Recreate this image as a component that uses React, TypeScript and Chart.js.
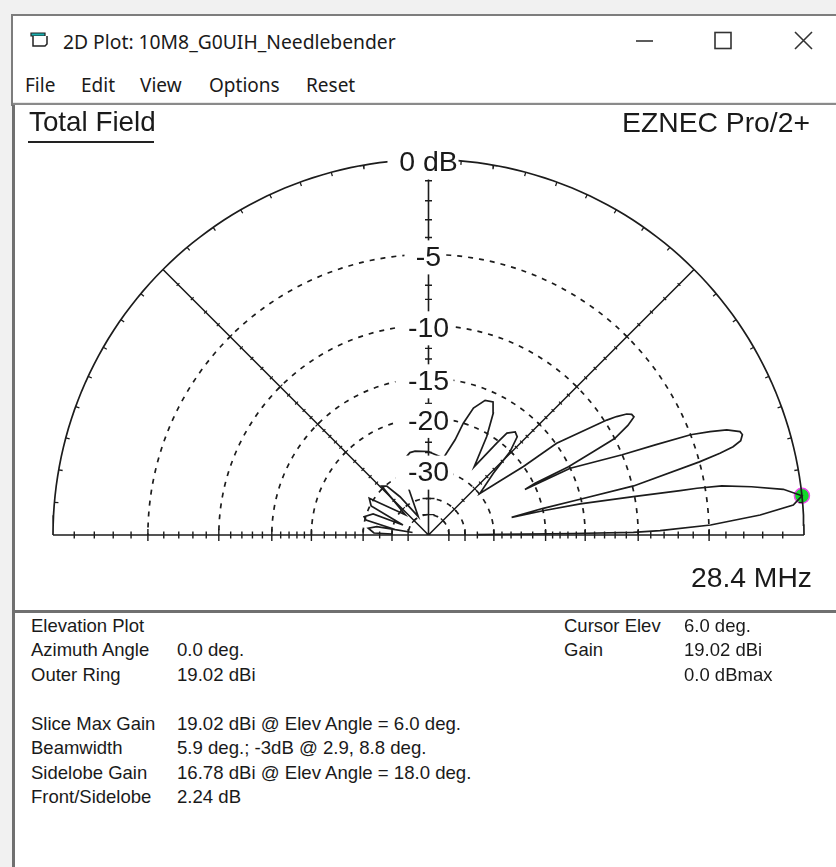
import React, { useEffect, useRef } from "react";
import { Chart, registerables } from "chart.js";

Chart.register(...registerables);

// Pattern: elevation angle (deg) and gain relative to the outer ring (dB)
const patternElevation = [
  0.5, 0.6, 0.76, 1.06, 2.03, 3.45, 4.7, 6.0, 7.34, 8.5, 9.49, 9.88, 9.99, 10.6, 11.56, 11.95, 12.0,
  13.1, 13.26, 13.45, 15.1, 15.66, 16.16, 16.8, 17.74, 18.35, 19.4, 20.15, 20.93, 21.67, 22.5, 25.2, 25.3,
  25.9, 26.0, 26.8, 27.4, 28.8, 29.5, 29.9, 30.7, 31.4, 32.2, 32.8, 35.6, 35.8, 37.1,
  39.0, 43.6, 45.6, 47.9, 49.9, 52.4, 53.4, 56.2,
  59.4, 62.0, 64.1, 67.2, 70.5, 72.7, 74.4, 79.1, 90.1, 99.1, 102.7, 107, 112.5, 119.1,
  126.7, 130.5, 133.7, 139, 148.2, 153.2, 158.6,
  159.2, 164.2, 166.5, 170.7, 171, 170.9, 173.6, 177.9, 178.4,
];
const patternGain = [
  -35.1, -16.4, -10.4, -8.3, -4.9, -2.1, -0.44, 0, -0.83, -2.4, -4.0, -5.5, -6.6, -10.1, -15.2, -20, -25.5,
  -19.9, -15.1, -9.9, -5.0, -3.7, -2.9, -2.42, -2.24, -2.31, -2.95, -3.86, -5.0, -7.4, -10, -15, -21.6,
  -19.8, -15.1, -12.2, -10, -8.6, -8.15, -7.9, -7.95, -8.25, -9.0, -9.8, -14.9, -20, -24.6,
  -29.8, -24.6, -20.1, -17.9, -17.6, -18.4, -20.4, -26.1,
  -20.4, -17.2, -16, -16.2, -17.6, -20, -22.9, -26.9, -25.8, -25.5, -25.6, -26.5, -31.6, -49.5,
  -35.4, -30.3, -29.4, -42.9, -28.9, -30.3, -44.9,
  -31.7, -29.6, -30.3, -41.3, -54, -33.8, -31.3, -33.1, -40,
];

const ringLevels = [-5, -10, -15, -20, -30, -40, -50];
const labelLevels = [0, -5, -10, -15, -20, -30];
const labelTexts = ["0 dB", "-5", "-10", "-15", "-20", "-30"];
const axisAngles = [0, 90, 180];
const diagonalAngles = [45, 135];
const minorTicks = [
  -1, -2, -3, -4, -6, -7, -8, -9, -11, -12, -13, -14, -16, -17, -18, -19, -22, -24, -26, -28, -35,
];
const majorTicks = [-5, -10, -15, -20, -30, -40, -50];
const cursorElevation = [6];
const cursorGain = [0];

const infoLeft = [
  ["Elevation Plot", ""],
  ["Azimuth Angle", "0.0 deg."],
  ["Outer Ring", "19.02 dBi"],
  ["", ""],
  ["Slice Max Gain", "19.02 dBi @ Elev Angle = 6.0 deg."],
  ["Beamwidth", "5.9 deg.; -3dB @ 2.9, 8.8 deg."],
  ["Sidelobe Gain", "16.78 dBi @ Elev Angle = 18.0 deg."],
  ["Front/Sidelobe", "2.24 dB"],
];
const infoRight = [
  ["Cursor Elev", "6.0 deg."],
  ["Gain", "19.02 dBi"],
  ["", "0.0 dBmax"],
];
const menuItems: [string, number][] = [
  ["File", 25],
  ["Edit", 81],
  ["View", 140],
  ["Options", 209],
  ["Reset", 306],
];

// Layout
const CX = 428.5;
const CY = 535;
const R = 375.5;
const CANVAS = { left: 15, top: 106, width: 821, height: 503 };
const labelMaskLeft = [41, 24, 32, 33, 33, 33];
const labelMaskRight = [30, 15, 24, 25, 25, 25];

// ARRL log scale
const rho = (db: number) => Math.pow(0.89, -db / 2);
const polar = (deg: number, r: number) => ({
  x: r * Math.cos((deg * Math.PI) / 180),
  y: r * Math.sin((deg * Math.PI) / 180),
});
const GAP = { x: NaN, y: NaN };

function ringPoints(db: number) {
  const pts = [];
  for (let a = 0; a <= 180; a += 1.5) pts.push(polar(a, rho(db)));
  return pts;
}
function tickPoints(angles: number[], levels: number[], half: number) {
  const pts: { x: number; y: number }[] = [];
  const h = half / R;
  angles.forEach((a) => {
    const ux = Math.cos((a * Math.PI) / 180);
    const uy = Math.sin((a * Math.PI) / 180);
    levels.forEach((db) => {
      const r = rho(db);
      pts.push({ x: r * ux - uy * h, y: r * uy + ux * h }, { x: r * ux + uy * h, y: r * uy - ux * h }, GAP);
    });
  });
  return pts;
}
function rimTickPoints() {
  const pts: { x: number; y: number }[] = [];
  for (let a = 5; a < 180; a += 5) {
    if (a % 45 === 0) continue;
    pts.push(polar(a, 1), polar(a, 1 - 4 / R), GAP);
  }
  return pts;
}
function spokePoints() {
  const pts: { x: number; y: number }[] = [];
  [...axisAngles, ...diagonalAngles].forEach((a) => pts.push({ x: 0, y: 0 }, polar(a, 1), GAP));
  return pts;
}

const INK = "#1c1c1c";
const labelFont = '28.5px "Liberation Sans", Arial, sans-serif';

const labelPlugin = {
  id: "ringLabels",
  afterDatasetsDraw(chart: any) {
    const { ctx, scales } = chart;
    const px = scales.x.getPixelForValue(0);
    ctx.save();
    ctx.font = labelFont;
    ctx.textAlign = "center";
    ctx.textBaseline = "middle";
    labelLevels.forEach((db, i) => {
      const y = scales.y.getPixelForValue(rho(db)) + 3;
      ctx.fillStyle = "#fff";
      ctx.fillRect(px - labelMaskLeft[i], y - 17, labelMaskLeft[i] + labelMaskRight[i], 34);
    });
    labelLevels.forEach((db, i) => {
      const y = scales.y.getPixelForValue(rho(db)) + 3;
      ctx.fillStyle = "#1a1a1a";
      ctx.fillText(labelTexts[i], px, y + 1);
    });
    ctx.restore();
  },
};

const sans = '"Liberation Sans", Arial, sans-serif';
const ui = '"Noto Sans", sans-serif';

function Text({ x, y, size, font, children, right }: any) {
  return (
    <div
      style={{
        position: "absolute",
        left: right ? undefined : x,
        right: right ? 836 - x : undefined,
        top: y,
        transform: "translateY(-50%)",
        fontSize: size,
        fontFamily: font,
        color: "#1a1a1a",
        whiteSpace: "nowrap",
        lineHeight: 1,
      }}
    >
      {children}
    </div>
  );
}

function Box({ l, t, w, h, c }: any) {
  return <div style={{ position: "absolute", left: l, top: t, width: w, height: h, background: c }} />;
}

export default function App() {
  const ref = useRef<HTMLCanvasElement>(null);

  useEffect(() => {
    const line = (data: any[], extra: any = {}) => ({
      type: "scatter",
      data,
      showLine: true,
      spanGaps: false,
      pointRadius: 0,
      borderColor: INK,
      borderWidth: 1.6,
      tension: 0,
      ...extra,
    });
    const chart = new Chart(ref.current as HTMLCanvasElement, {
      type: "scatter",
      data: {
        datasets: [
          {
            type: "scatter",
            label: "Cursor",
            data: cursorElevation.map((e, i) => polar(e, rho(cursorGain[i]))),
            pointRadius: 7.5,
            pointBackgroundColor: "#12d62a",
            pointBorderColor: "#ee44ee",
            pointBorderWidth: 1.5,
            showLine: false,
            order: 5,
          },
          ...ringLevels.map((db) =>
            line(ringPoints(db), { label: `${db} dB ring`, borderDash: [5, 6], borderWidth: 1.7, order: 4 })
          ),
          line(ringPoints(0), { label: "Outer ring", borderWidth: 1.7, order: 3 }),
          line(spokePoints(), { label: "Spokes", borderWidth: 1.6, order: 3 }),
          line(tickPoints(axisAngles, minorTicks, 3.5), { label: "Axis minor ticks", borderWidth: 1.4, order: 3 }),
          line(tickPoints(axisAngles, majorTicks, 6), { label: "Axis major ticks", borderWidth: 1.4, order: 3 }),
          line(tickPoints(diagonalAngles, minorTicks, 2), { label: "Diagonal minor ticks", borderWidth: 1.2, order: 3 }),
          line(tickPoints(diagonalAngles, majorTicks, 3), { label: "Diagonal major ticks", borderWidth: 1.2, order: 3 }),
          line(rimTickPoints(), { label: "Rim ticks", borderWidth: 1.3, order: 3 }),
          line(
            patternElevation.map((e, i) => polar(e, rho(patternGain[i]))),
            { label: "Total Field", borderWidth: 1.7, order: 1 }
          ),
        ] as any,
      },
      options: {
        responsive: false,
        animation: false,
        layout: { padding: 0, autoPadding: false },
        plugins: { legend: { display: false }, tooltip: { enabled: false }, title: { display: false } },
        scales: {
          x: {
            type: "linear",
            display: false,
            min: (CANVAS.left - CX) / R,
            max: (CANVAS.left + CANVAS.width - CX) / R,
          },
          y: {
            type: "linear",
            display: false,
            min: (CY - CANVAS.top - CANVAS.height) / R,
            max: (CY - CANVAS.top) / R,
          },
        },
      },
      plugins: [labelPlugin],
    } as any);
    return () => chart.destroy();
  }, []);

  const rows = [626, 650, 675, 699, 724, 748, 773, 797];

  return (
    <div style={{ position: "fixed", left: 0, top: 0, width: 836, height: 867, background: "#fff", overflow: "hidden" }}>
      <Box l={0} t={0} w={836} h={14} c="#f1f1f1" />
      <Box l={0} t={0} w={12} h={867} c="#f1f1f1" />
      <Box l={11} t={14} w={825} h={2} c="#7d7d7d" />
      <Box l={11} t={14} w={2} h={92} c="#7d7d7d" />
      <Box l={12} t={105} w={3} h={762} c="#707070" />
      <Box l={13} t={102} w={823} h={1} c="#e8e8e8" />
      <Box l={13} t={103} w={823} h={2} c="#8a8a8a" />
      <Box l={13} t={610} w={823} h={3} c="#707070" />

      <svg style={{ position: "absolute", left: 29, top: 30 }} width={22} height={22}>
        <path d="M2 3 h14 v3 h-14 z" fill="#18b0b0" stroke="#222" strokeWidth={1.2} />
        <path d="M4 6 v10 h12 l2 -2 v-8" fill="#fff" stroke="#222" strokeWidth={1.5} />
      </svg>
      <Text x={63} y={42} size={19.3} font={ui}>
        2D Plot: 10M8_G0UIH_Needlebender
      </Text>
      <svg style={{ position: "absolute", left: 630, top: 28 }} width={190} height={26}>
        <path d="M6 13 h17" stroke="#333" strokeWidth={1.6} fill="none" />
        <rect x={85} y={4.5} width={16} height={16} stroke="#333" strokeWidth={1.6} fill="none" />
        <path d="M165 4 L182 21 M182 4 L165 21" stroke="#333" strokeWidth={1.6} fill="none" />
      </svg>
      {menuItems.map(([t, x]) => (
        <Text key={t} x={x} y={85} size={19} font={ui}>
          {t}
        </Text>
      ))}

      <canvas
        ref={ref}
        width={CANVAS.width}
        height={CANVAS.height}
        style={{ position: "absolute", left: CANVAS.left, top: CANVAS.top }}
      />

      <Text x={29} y={122} size={27.8} font={sans}>
        Total Field
      </Text>
      <Box l={28} t={141} w={126} h={2} c="#222" />
      <Text x={810} y={122} size={28.3} font={sans} right>
        EZNEC Pro/2+
      </Text>
      <Text x={812} y={577} size={28.3} font={sans} right>
        28.4 MHz
      </Text>

      {infoLeft.map(([a, b], i) => (
        <React.Fragment key={i}>
          {a && (
            <Text x={31} y={rows[i]} size={18.5} font={sans}>
              {a}
            </Text>
          )}
          {b && (
            <Text x={177} y={rows[i]} size={18.6} font={sans}>
              {b}
            </Text>
          )}
        </React.Fragment>
      ))}
      {infoRight.map(([a, b], i) => (
        <React.Fragment key={i}>
          {a && (
            <Text x={564} y={rows[i]} size={18.5} font={sans}>
              {a}
            </Text>
          )}
          {b && (
            <Text x={684} y={rows[i]} size={18.5} font={sans}>
              {b}
            </Text>
          )}
        </React.Fragment>
      ))}
    </div>
  );
}
